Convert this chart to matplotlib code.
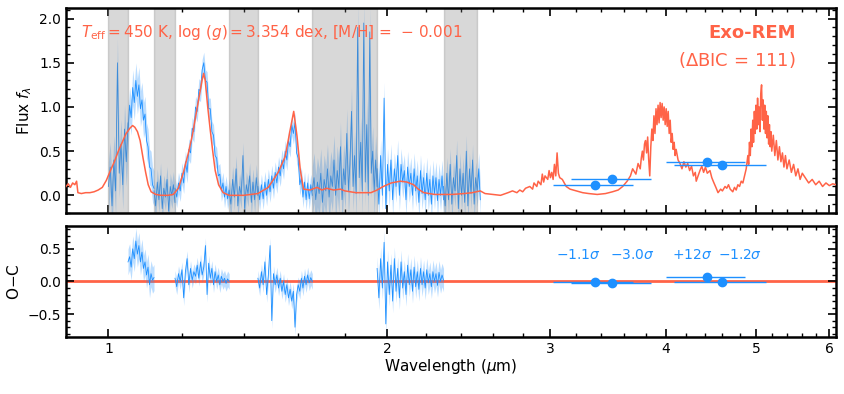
import matplotlib
matplotlib.use('Agg')
import matplotlib.pyplot as plt
from matplotlib.ticker import FixedLocator, MultipleLocator, ScalarFormatter, NullFormatter
import numpy as np

red = '#FF6347'
blue = '#1E90FF'

# --- atmospheric model (Exo-REM best fit) ---
model_wave = [0.900, 0.905, 0.910, 0.915, 0.920, 0.924, 0.927, 0.935, 0.945, 0.955, 0.965, 0.975,
              0.985, 0.995, 1.005, 1.015, 1.025, 1.035, 1.045, 1.055, 1.062, 1.068, 1.075, 1.082,
              1.090, 1.097, 1.104, 1.112, 1.125, 1.14, 1.16, 1.175, 1.19, 1.205, 1.22, 1.232,
              1.245, 1.255, 1.262, 1.267, 1.272, 1.280, 1.288, 1.296, 1.304, 1.315, 1.33, 1.35,
              1.40, 1.45, 1.488, 1.525, 1.552, 1.571, 1.585, 1.598, 1.611, 1.624, 1.65, 1.68,
              1.70, 1.72, 1.75, 1.78, 1.80, 1.85, 1.92, 1.95, 1.98, 2.02, 2.066, 2.10,
              2.135, 2.16, 2.19, 2.25, 2.35, 2.42, 2.47, 2.52,
              2.55, 2.60, 2.65, 2.70, 2.73, 2.76, 2.78, 2.80, 2.82, 2.85, 2.87, 2.88,
              2.90, 2.91, 2.93, 2.94, 2.95, 2.96, 2.98, 2.99, 3.00, 3.01, 3.02, 3.03,
              3.04, 3.05, 3.06, 3.07, 3.09, 3.12, 3.15, 3.20, 3.25, 3.30, 3.37, 3.44,
              3.50, 3.55, 3.59, 3.63, 3.66, 3.68, 3.71, 3.73, 3.75,
              3.76, 3.77, 3.78, 3.79, 3.80, 3.81, 3.82, 3.83, 3.84, 3.85, 3.86, 3.87,
              3.88, 3.89, 3.90, 3.91, 3.92, 3.93, 3.94, 3.95, 3.96, 3.97, 3.98, 3.99,
              4.00, 4.01, 4.02, 4.03, 4.04, 4.05, 4.06, 4.07, 4.08, 4.09, 4.10, 4.12,
              4.14, 4.16, 4.18, 4.20, 4.22, 4.24, 4.26, 4.28, 4.30, 4.31, 4.33, 4.35,
              4.37, 4.39, 4.41, 4.43, 4.46, 4.48, 4.50, 4.53, 4.55, 4.58, 4.60, 4.63,
              4.65, 4.67, 4.69, 4.72, 4.74, 4.76, 4.78, 4.80, 4.82, 4.84, 4.86, 4.88,
              4.90, 4.91, 4.92, 4.93, 4.94, 4.95, 4.96, 4.97, 4.98, 4.99, 5.00, 5.01,
              5.02, 5.03, 5.04, 5.05, 5.06, 5.07, 5.08, 5.09, 5.10, 5.11, 5.12, 5.13,
              5.14, 5.15, 5.16, 5.17, 5.18, 5.19, 5.20, 5.22, 5.24, 5.26, 5.28, 5.30,
              5.32, 5.34, 5.36, 5.38, 5.40, 5.43, 5.46, 5.49, 5.52, 5.55, 5.58, 5.61,
              5.65, 5.70, 5.75, 5.80, 5.85, 5.90, 5.95, 6.00, 6.05, 6.10]
model_flux = [0.10, 0.13, 0.09, 0.14, 0.12, 0.16, 0.03, 0.02, 0.03, 0.03, 0.04, 0.06,
              0.09, 0.17, 0.28, 0.38, 0.50, 0.60, 0.70, 0.76, 0.79, 0.77, 0.72, 0.62,
              0.42, 0.26, 0.12, 0.04, 0.01, 0.00, 0.00, 0.01, 0.08, 0.26, 0.48, 0.68,
              0.95, 1.15, 1.30, 1.38, 1.30, 1.00, 0.74, 0.50, 0.28, 0.12, 0.03, 0.00,
              0.00, 0.02, 0.09, 0.26, 0.44, 0.74, 0.95, 0.67, 0.29, 0.07, 0.06, 0.09,
              0.06, 0.08, 0.06, 0.07, 0.05, 0.03, 0.03, 0.06, 0.10, 0.14, 0.16, 0.15,
              0.12, 0.07, 0.03, 0.01, 0.01, 0.02, 0.03, 0.05,
              0.02, 0.01, 0.00, 0.03, 0.05, 0.03, 0.06, 0.04, 0.08, 0.10, 0.07, 0.14,
              0.10, 0.16, 0.12, 0.24, 0.15, 0.22, 0.18, 0.28, 0.20, 0.26, 0.18, 0.35,
              0.22, 0.48, 0.25, 0.20, 0.18, 0.10, 0.07, 0.05, 0.03, 0.02, 0.01, 0.02,
              0.04, 0.06, 0.10, 0.16, 0.22, 0.30, 0.24, 0.36, 0.30,
              0.42, 0.50, 0.40, 0.58, 0.62, 0.48, 0.66, 0.40, 0.22, 0.55, 0.75, 0.62,
              0.90, 0.70, 0.98, 0.80, 1.02, 0.82, 1.05, 0.88, 1.04, 0.85, 1.00, 0.80,
              0.98, 0.78, 0.95, 0.70, 0.85, 0.60, 0.70, 0.52, 0.60, 0.45, 0.52, 0.40,
              0.36, 0.30, 0.38, 0.32, 0.36, 0.28, 0.33, 0.22, 0.26, 0.16, 0.22, 0.28,
              0.33, 0.26, 0.32, 0.25, 0.28, 0.20, 0.15, 0.08, 0.03, 0.07, 0.05, 0.10,
              0.08, 0.12, 0.07, 0.04, 0.09, 0.06, 0.12, 0.10, 0.16, 0.14, 0.22, 0.30,
              0.45, 0.35, 0.60, 0.45, 0.75, 0.55, 0.85, 0.60, 0.95, 0.70, 1.02, 0.75,
              1.10, 0.80, 1.00, 0.72, 1.15, 1.25, 0.85, 1.08, 0.75, 1.02, 0.70, 0.95,
              0.65, 0.90, 0.58, 0.80, 0.55, 0.72, 0.50, 0.68, 0.45, 0.62, 0.40, 0.55,
              0.38, 0.48, 0.32, 0.45, 0.30, 0.40, 0.26, 0.35, 0.22, 0.30, 0.18, 0.25,
              0.20, 0.14, 0.18, 0.12, 0.16, 0.10, 0.14, 0.11, 0.13, 0.12]

# --- observed spectrum, in chunks (gray = excluded from fit) ---
seg_edges = [(1.00, 1.05), (1.05, 1.12), (1.12, 1.18), (1.18, 1.35), (1.35, 1.45),
             (1.45, 1.66), (1.66, 1.95), (1.95, 2.30), (2.30, 2.52)]
seg_err = [0.28, 0.2, 0.15, 0.12, 0.15, 0.12, 0.28, 0.18, 0.18]
seg_flux = [
    [0.10, 0.32, -0.12, 0.40, 0.05, 1.50, 0.25, 0.58, 0.12, 0.75, 0.38, 0.82],
    [0.72, 1.02, 0.88, 1.22, 1.05, 1.30, 1.12, 1.25, 0.98, 1.08, 0.85, 0.92, 0.62, 0.55,
     0.32, 0.30, 0.12, 0.08],
    [0.05, -0.12, 0.15, -0.05, 0.22, -0.15, 0.08, -0.02, 0.18, -0.18, 0.10, 0.00, 0.12, -0.08],
    [0.08, -0.02, 0.14, 0.05, 0.25, 0.14, 0.38, 0.26, 0.52, 0.48, 0.76, 0.72, 1.00, 0.95,
     1.20, 1.18, 1.42, 1.50, 1.30, 1.28, 0.98, 0.98, 0.72, 0.68, 0.45, 0.42, 0.22, 0.24,
     0.05, 0.14, -0.02, 0.10, -0.04, 0.06],
    [0.05, -0.10, 0.18, -0.02, 0.30, -0.12, 0.10, 0.00, 0.45, -0.15, 0.12, 0.02, 0.22,
     -0.08, 0.15, -0.05, 0.20, 0.00],
    [0.10, -0.05, 0.12, -0.04, 0.15, 0.00, 0.18, 0.04, 0.22, 0.08, 0.26, 0.14, 0.32, 0.22,
     0.40, 0.30, 0.50, 0.40, 0.62, 0.55, 0.80, 0.70, 0.82, 0.48, 0.42, 0.12, 0.20, -0.02,
     0.15, -0.05, 0.14, -0.04, 0.12, 0.00],
    [0.05, 0.20, -0.05, 0.15, 0.02, 0.25, -0.08, 0.18, 0.05, 0.30, -0.02, 0.22, 0.10, 0.40,
     0.00, 0.28, 0.08, 0.55, -0.05, 0.30, 0.12, 0.70, 0.05, 0.35, 0.95, 0.10, 0.45, 0.02,
     1.90, 0.20, 0.60, 0.05, 1.95, 0.15, 0.80, 0.00, 1.85, 0.25, 0.50, 0.05, 0.40, 0.10],
    [0.30, -0.10, 0.45, 0.00, 1.10, -0.15, 0.35, 0.05, 0.40, -0.05, 0.30, 0.10, 0.45, 0.00,
     0.35, 0.15, 0.28, -0.05, 0.32, 0.10, 0.25, 0.00, 0.30, 0.05, 0.22, -0.08, 0.28, 0.02,
     0.20, -0.05, 0.25, 0.00, 0.18, -0.10, 0.22, 0.02, 0.20, -0.06, 0.18, 0.00, 0.22, -0.05],
    [0.10, -0.12, 0.25, -0.05, 0.35, -0.10, 0.20, 0.05, 0.45, -0.15, 0.30, 0.00, 0.25,
     -0.08, 0.50, -0.12, 0.30, 0.02, 0.40, -0.10, 0.20, 0.05, 0.30, -0.05],
]

# residuals only in the fitted chunks
fit_segs = [1, 3, 5, 7]
resid = [
    [0.30, 0.38, 0.22, 0.50, 0.35, 0.62, 0.42, 0.55, 0.30, 0.45, 0.20, 0.30, 0.10, 0.22,
     -0.05, 0.12, 0.02, 0.06],
    [0.05, -0.08, 0.12, 0.00, 0.18, -0.25, 0.15, 0.35, -0.05, 0.20, 0.02, 0.15, 0.08, 0.25,
     0.05, 0.30, 0.10, 0.22, 0.55, -0.20, 0.28, 0.05, 0.20, -0.05, 0.15, 0.00, 0.10, -0.05,
     0.08, 0.00, 0.05, -0.03, 0.04, 0.00],
    [0.05, -0.10, 0.15, -0.05, 0.30, -0.20, 0.10, 0.55, -0.60, 0.12, -0.05, 0.10, -0.10,
     0.05, -0.15, 0.00, -0.20, -0.05, -0.25, -0.12, -0.30, -0.15, -0.70, -0.20, -0.05,
     -0.15, 0.05, -0.10, 0.08, -0.05, 0.10, -0.02, 0.06, 0.00],
    [0.20, -0.25, 0.35, -0.10, 0.60, -0.65, 0.30, -0.20, 0.25, -0.30, 0.35, -0.15, 0.20,
     -0.25, 0.30, -0.10, 0.15, -0.20, 0.25, -0.05, 0.18, -0.15, 0.22, -0.08, 0.15, -0.12,
     0.20, -0.05, 0.15, -0.10, 0.18, -0.02, 0.12, -0.08, 0.15, 0.00, 0.12, -0.06, 0.14,
     0.00, 0.10, 0.02],
]

# masked (telluric) windows
gray_windows = [(1.00, 1.05), (1.12, 1.18), (1.35, 1.45), (1.66, 1.95), (2.30, 2.50)]

# photometry
phot_wave = [3.35, 3.50, 4.43, 4.60]
phot_lo = [3.02, 3.16, 4.00, 4.08]
phot_hi = [3.68, 3.85, 4.86, 5.12]
phot_flux = [0.12, 0.18, 0.38, 0.34]
phot_resid = [-0.01, -0.02, 0.07, -0.01]
phot_sig = [r'$-1.1\sigma$', r'$-3.0\sigma$', r'$+12\sigma$', r'$-1.2\sigma$']
sig_x = [3.22, 3.68, 4.27, 4.80]

plt.rcParams['axes.linewidth'] = 1.8

fig = plt.figure(figsize=(8.44, 3.94), dpi=100)
ax1 = fig.add_axes([0.0782, 0.4594, 0.9123, 0.5203])
ax2 = fig.add_axes([0.0782, 0.1447, 0.9123, 0.2817])

for i, (lo, hi) in enumerate(seg_edges):
    f = np.array(seg_flux[i])
    w = np.linspace(lo, hi, len(f))
    ax1.fill_between(w, f - seg_err[i], f + seg_err[i], color=blue, alpha=0.3, lw=0, zorder=1)
    ax1.plot(w, f, color=blue, lw=0.6, zorder=1.5)

for lo, hi in gray_windows:
    ax1.axvspan(lo, hi, color='gray', alpha=0.3, lw=1, zorder=2)

ax1.plot(model_wave, model_flux, color=red, lw=1.1, zorder=3)

xerr = [np.array(phot_wave) - np.array(phot_lo), np.array(phot_hi) - np.array(phot_wave)]
ax1.errorbar(phot_wave, phot_flux, xerr=xerr, fmt='o', color=blue, ms=6, lw=1, zorder=4)

ax1.text(0.02, 0.88, r'$T_{\rm eff} = 450$ K, $\log\,(g) = 3.354$ dex, [M/H]$\,=\,-\,0.001$',
         transform=ax1.transAxes, color=red, fontsize=11, va='center', ha='left')
ax1.text(0.948, 0.88, 'Exo-REM', transform=ax1.transAxes, color=red, fontsize=13,
         fontweight='bold', va='center', ha='right')
ax1.text(0.948, 0.745, r'($\Delta$BIC = 111)', transform=ax1.transAxes, color=red,
         fontsize=13, va='center', ha='right')

ax2.axhline(0, color=red, lw=2, zorder=1)
for k, s in enumerate(fit_segs):
    lo, hi = seg_edges[s]
    r = np.array(resid[k])
    w = np.linspace(lo, hi, len(r))
    ax2.fill_between(w, r - seg_err[s], r + seg_err[s], color=blue, alpha=0.3, lw=0, zorder=2)
    ax2.plot(w, r, color=blue, lw=0.6, zorder=2.5)
ax2.errorbar(phot_wave, phot_resid, xerr=xerr, fmt='o', color=blue, ms=6, lw=1, zorder=4)
for x, s in zip(sig_x, phot_sig):
    ax2.text(x, 0.4, s, color=blue, fontsize=10, ha='center', va='center')

for ax in (ax1, ax2):
    ax.set_xscale('log')
    ax.set_xlim(0.9, 6.1)
    ax.xaxis.set_major_locator(FixedLocator([1, 2, 3, 4, 5, 6]))
    ax.xaxis.set_minor_locator(MultipleLocator(0.2))
    ax.xaxis.set_minor_formatter(NullFormatter())
    ax.tick_params(which='both', direction='in', top=True, right=True, labelsize=10)
    ax.tick_params(which='major', length=6, width=1.2)
    ax.tick_params(which='minor', length=3, width=1)
    ax.yaxis.set_minor_locator(MultipleLocator(0.1))

ax1.set_ylim(-0.2, 2.12)
ax1.yaxis.set_major_locator(MultipleLocator(0.5))
ax1.tick_params(labelbottom=False)
ax1.set_ylabel(r'Flux $f_\lambda$', fontsize=11)

ax2.set_ylim(-0.85, 0.85)
ax2.yaxis.set_major_locator(FixedLocator([-0.5, 0.0, 0.5]))
ax2.xaxis.set_major_formatter(ScalarFormatter())
ax2.set_ylabel('O$-$C', fontsize=11)
ax2.set_xlabel(r'Wavelength ($\mu$m)', fontsize=11, labelpad=1)

fig.savefig('out.png', dpi=100)
